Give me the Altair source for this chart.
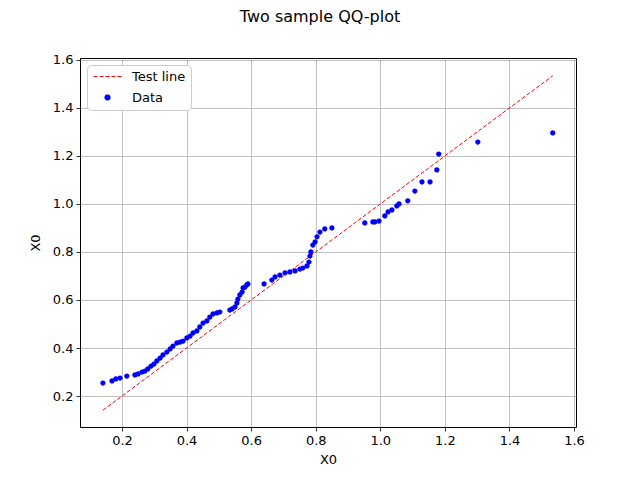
import altair as alt
import pandas as pd

# Sorted sample quantiles
x_q = [0.141, 0.169, 0.181, 0.194, 0.215, 0.240, 0.250, 0.262, 0.271, 0.280,
       0.290, 0.299, 0.308, 0.318, 0.327, 0.339, 0.349, 0.358, 0.370, 0.380,
       0.389, 0.401, 0.411, 0.420, 0.432, 0.441, 0.451, 0.463, 0.472, 0.482,
       0.494, 0.503, 0.534, 0.541, 0.550, 0.556, 0.559, 0.565, 0.572, 0.575,
       0.581, 0.587, 0.590, 0.640, 0.664, 0.674, 0.689, 0.705, 0.720, 0.736,
       0.751, 0.760, 0.773, 0.779, 0.782, 0.785, 0.791, 0.798, 0.804, 0.813,
       0.828, 0.850, 0.952, 0.977, 0.983, 0.996, 1.014, 1.024, 1.036, 1.051,
       1.058, 1.085, 1.107, 1.129, 1.154, 1.175, 1.181, 1.302, 1.534]
y_q = [0.254, 0.263, 0.271, 0.275, 0.283, 0.288, 0.292, 0.300, 0.304, 0.313,
       0.325, 0.333, 0.346, 0.358, 0.371, 0.383, 0.396, 0.408, 0.421, 0.425,
       0.429, 0.442, 0.450, 0.463, 0.471, 0.488, 0.504, 0.513, 0.529, 0.542,
       0.546, 0.550, 0.558, 0.563, 0.571, 0.588, 0.604, 0.621, 0.633, 0.650,
       0.654, 0.663, 0.667, 0.667, 0.683, 0.696, 0.704, 0.713, 0.717, 0.721,
       0.729, 0.733, 0.742, 0.758, 0.783, 0.800, 0.829, 0.842, 0.863, 0.883,
       0.896, 0.900, 0.921, 0.925, 0.925, 0.929, 0.950, 0.967, 0.975, 0.992,
       1.000, 1.013, 1.054, 1.092, 1.092, 1.142, 1.208, 1.258, 1.296]

line_x = [0.141, 1.534]
line_y = [0.141, 1.534]

series_names = ["Test line", "Data"]
tick_vals = [0.2, 0.4, 0.6, 0.8, 1.0, 1.2, 1.4, 1.6]

pts = pd.DataFrame({"x": x_q, "y": y_q, "series": "Data"})
ln = pd.DataFrame({"x": line_x, "y": line_y, "series": "Test line"})

xs = alt.Scale(domain=[0.07, 1.606], nice=False, zero=False)
ys = alt.Scale(domain=[0.071, 1.608], nice=False, zero=False)

x_axis = alt.Axis(values=tick_vals, format=".1f", title="X0", grid=True)
y_axis = alt.Axis(values=tick_vals, format=".1f", title="X0", grid=True)

LINE_SYM = "M-2.8,0L2.8,0"
DOT_SYM = "M-0.5,0A0.5,0.5,0,1,1,0.5,0A0.5,0.5,0,1,1,-0.5,0Z"

legend = alt.Legend(title=None, orient="top-left", offset=7)
color = alt.Color("series:N", scale=alt.Scale(domain=series_names, range=["#ff0000", "#0000ff"]), legend=legend)
shape = alt.Shape("series:N", scale=alt.Scale(domain=series_names, range=[LINE_SYM, DOT_SYM]), legend=legend)
dash = alt.StrokeDash("series:N", scale=alt.Scale(domain=series_names, range=[[4, 2], [1, 0]]), legend=legend)

line_layer = alt.Chart(ln).mark_line(strokeWidth=1).encode(
    x=alt.X("x:Q", scale=xs, axis=x_axis),
    y=alt.Y("y:Q", scale=ys, axis=y_axis),
    color=color,
    strokeDash=dash,
)

pt_layer = alt.Chart(pts).mark_point(filled=True, opacity=1, size=110).encode(
    x=alt.X("x:Q", scale=xs, axis=x_axis),
    y=alt.Y("y:Q", scale=ys, axis=y_axis),
    color=color,
    shape=shape,
    strokeDash=dash,
)

chart = alt.layer(line_layer, pt_layer).properties(
    width=496,
    height=369,
    autosize=alt.AutoSizeParams(type="none"),
    padding={"left": 72, "top": 50, "right": 56, "bottom": 45},
    title=alt.TitleParams("Two sample QQ-plot", fontSize=16, fontWeight="normal",
                          font="DejaVu Sans", anchor="middle", dx=-8, offset=29, color="black"),
).configure_view(
    stroke="black", strokeWidth=1
).configure_axis(
    labelFont="DejaVu Sans", titleFont="DejaVu Sans", labelFontSize=13, titleFontSize=13,
    titleFontWeight="normal", labelColor="black", titleColor="black",
    gridColor="#b0b0b0", gridWidth=0.8, gridOpacity=1,
    domain=False, tickColor="black", tickSize=4, tickWidth=0.8, labelPadding=3,
).configure_axisX(
    titlePadding=6
).configure_axisY(
    titlePadding=10
).configure_legend(
    labelFont="DejaVu Sans", labelFontSize=13, labelColor="black",
    fillColor="white", strokeColor="#cccccc", cornerRadius=4, padding=5,
    symbolStrokeWidth=1.2, symbolSize=100, rowPadding=7, labelOffset=18,
    symbolOffset=9, labelLimit=200,
)

chart.save("out.html", embed_options={"renderer": "svg", "actions": False})
